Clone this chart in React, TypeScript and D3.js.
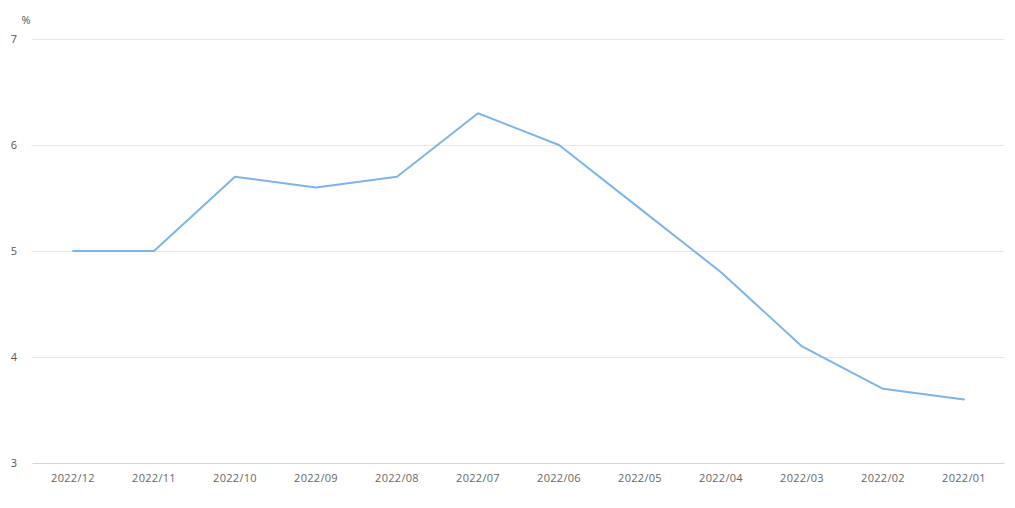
import React from "react";
import * as d3 from "d3";

const categories = ["2022/12","2022/11","2022/10","2022/09","2022/08","2022/07","2022/06","2022/05","2022/04","2022/03","2022/02","2022/01"];
const values = [5.0, 5.0, 5.7, 5.6, 5.7, 6.3, 6.0, 5.4, 4.8, 4.1, 3.7, 3.6];
const yTicks = [3, 4, 5, 6, 7];
const unit = "%";

export default function App() {
  const W = 1015, H = 508;
  const left = 32.5, right = 1004.5, top = 39, bottom = 463;
  const x = d3.scaleBand<string>().domain(categories).range([left, right]);
  const y = d3.scaleLinear().domain([3, 7]).range([bottom, top]);
  const line = d3.line<number>()
    .x((_, i) => (x(categories[i]) as number) + x.bandwidth() / 2)
    .y(d => y(d));
  const font = "'Open Sans', 'DejaVu Sans', sans-serif";
  return (
    <svg width={W} height={H} style={{ position: "absolute", left: 0, top: 0 }}>
      <rect width={W} height={H} fill="#fff" />
      <text x={26} y={24} fontSize={11} fill="#555" textAnchor="middle" fontFamily={font}>{unit}</text>
      {yTicks.map(t => (
        <g key={t}>
          {t !== 3 && <line x1={left} x2={right} y1={Math.round(y(t)) + 0.5} y2={Math.round(y(t)) + 0.5} stroke="#e6e6e6" strokeWidth={1} />}
          <text x={17} y={y(t) + 4} fontSize={11} fill="#555" textAnchor="end" fontFamily={font}>{t}</text>
        </g>
      ))}
      <line x1={left} x2={right} y1={bottom + 0.5} y2={bottom + 0.5} stroke="#ccd6eb" strokeWidth={1} />
      {categories.map(c => (
        <text key={c} x={(x(c) as number) + x.bandwidth() / 2} y={482} fontSize={11} fill="#666" textAnchor="middle" fontFamily={font} letterSpacing={0.3}>{c}</text>
      ))}
      <path d={line(values) || ""} fill="none" stroke="#7cb5ec" strokeWidth={2} strokeLinejoin="round" strokeLinecap="round" />
    </svg>
  );
}
